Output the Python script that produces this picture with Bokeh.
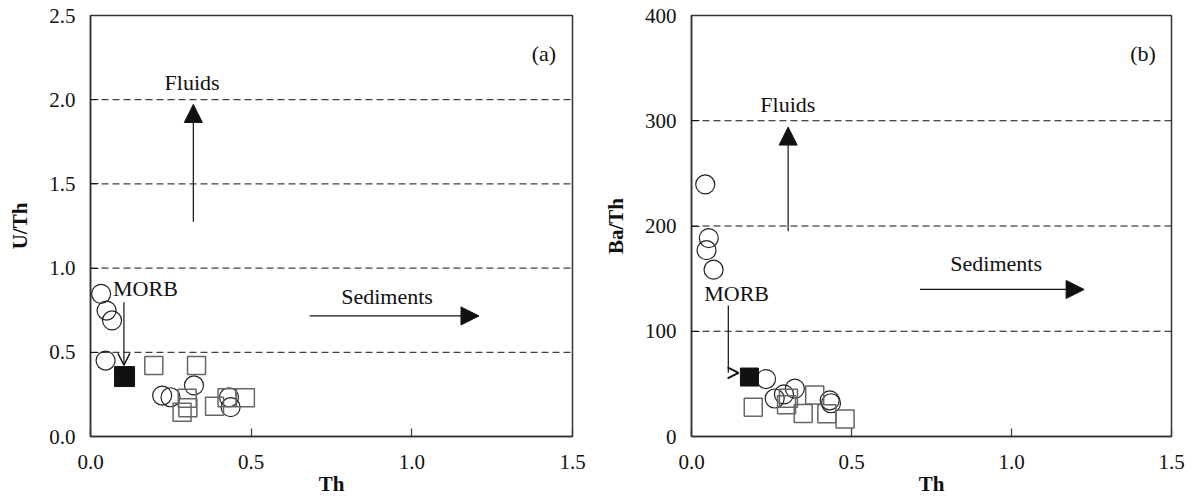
from bokeh.plotting import figure
from bokeh.layouts import row
from bokeh.models import (Arrow, NormalHead, OpenHead, Span, Label, FixedTicker,
                          NumeralTickFormatter)
from bokeh.embed import file_html
from bokeh.resources import INLINE

# ---------------- data ----------------
# Panel (a): U/Th vs Th
a_circle_th = [0.033, 0.050, 0.067, 0.047, 0.223, 0.249, 0.322, 0.431, 0.436]
a_circle_uth = [0.847, 0.748, 0.689, 0.451, 0.243, 0.233, 0.303, 0.233, 0.174]
a_square_th = [0.197, 0.330, 0.301, 0.285, 0.303, 0.386, 0.425, 0.482]
a_square_uth = [0.422, 0.422, 0.227, 0.144, 0.170, 0.180, 0.230, 0.230]
a_morb_th = [0.106]
a_morb_uth = [0.356]
a_hlines = [0.5, 1.0, 1.5, 2.0]
a_yticks = [0.0, 0.5, 1.0, 1.5, 2.0, 2.5]

# Panel (b): Ba/Th vs Th
b_circle_th = [0.043, 0.054, 0.047, 0.069, 0.233, 0.260, 0.289, 0.323, 0.432, 0.436]
b_circle_bath = [239.5, 188.5, 177.0, 158.5, 54.6, 36.1, 40.0, 45.5, 34.4, 31.6]
b_square_th = [0.193, 0.297, 0.303, 0.349, 0.385, 0.423, 0.480]
b_square_bath = [27.8, 30.1, 36.4, 21.8, 39.4, 21.5, 16.6]
b_morb_th = [0.181]
b_morb_bath = [56.5]
b_hlines = [100, 200, 300]
b_yticks = [0, 100, 200, 300, 400]

x_ticks = [0.0, 0.5, 1.0, 1.5]

FONT = "Liberation Serif"
TXT = "#111111"
FRAME = "#333333"


def base_fig(width, left, right, y_max, y_ticks, y_fmt, y_label):
    p = figure(width=width, height=499, x_range=(0, 1.5), y_range=(0, y_max),
               output_backend="svg", toolbar_location=None,
               min_border_left=left, min_border_right=right,
               min_border_top=15, min_border_bottom=63)
    p.grid.visible = False
    p.outline_line_color = FRAME
    p.outline_line_width = 1.5
    p.background_fill_color = "white"
    p.border_fill_color = "white"
    for ax in (p.xaxis[0], p.yaxis[0]):
        ax.axis_line_color = FRAME
        ax.axis_line_width = 1.5
        ax.major_tick_in = 8
        ax.major_tick_out = 0
        ax.major_tick_line_color = FRAME
        ax.major_tick_line_width = 1.2
        ax.minor_tick_line_color = None
        ax.major_label_text_font = FONT
        ax.major_label_text_font_size = "21px"
        ax.major_label_text_color = TXT
        ax.axis_label_text_font = FONT
        ax.axis_label_text_font_size = "21px"
        ax.axis_label_text_font_style = "bold"
        ax.axis_label_text_color = TXT
    p.xaxis.ticker = FixedTicker(ticks=x_ticks)
    p.xaxis.formatter = NumeralTickFormatter(format="0.0")
    p.xaxis.major_label_standoff = 18
    p.xaxis.major_label_text_line_height = 1.0
    p.xaxis.axis_label = "Th"
    p.xaxis.axis_label_standoff = 0
    p.xaxis.axis_label_text_line_height = 1.0
    p.yaxis.ticker = FixedTicker(ticks=y_ticks)
    p.yaxis.formatter = NumeralTickFormatter(format=y_fmt)
    p.yaxis.major_label_standoff = 15
    p.yaxis.axis_label = y_label
    p.yaxis.axis_label_standoff = 14
    return p


def add_text(p, x, y, t, size="22px", align="center", style="normal"):
    p.add_layout(Label(x=x, y=y, text=t, text_font=FONT, text_font_size=size,
                       text_color=TXT, text_align=align, text_baseline="middle",
                       text_font_style=style))


def add_points(p, cx, cy, sx, sy, mx, my, morb_size):
    p.scatter(x=cx, y=cy, marker="circle", size=19, fill_color=None,
              line_color="#222222", line_width=1.2)
    p.scatter(x=sx, y=sy, marker="square", size=18, fill_color=None,
              line_color="#666666", line_width=1.5)
    p.scatter(x=mx, y=my, marker="square", size=morb_size, fill_color="#111111",
              line_color="#111111")


DASH = dict(dimension="width", line_dash="7 4", line_color="#111111", line_width=1)

# ---------------- panel (a) ----------------
pa = base_fig(600, 90, 28, 2.5, a_yticks, "0.0", "U/Th")
for v in a_hlines:
    pa.add_layout(Span(location=v, **DASH))
add_points(pa, a_circle_th, a_circle_uth, a_square_th, a_square_uth,
           a_morb_th, a_morb_uth, 20)
pa.add_layout(Arrow(end=NormalHead(size=18, fill_color="#111111", line_color="#111111"),
                    x_start=0.320, y_start=1.275, x_end=0.320, y_end=1.972,
                    line_color="#111111", line_width=1.2))
pa.add_layout(Arrow(end=NormalHead(size=18, fill_color="#111111", line_color="#111111"),
                    x_start=0.682, y_start=0.716, x_end=1.209, y_end=0.716,
                    line_color="#111111", line_width=1.2))
pa.add_layout(Arrow(end=OpenHead(size=12, line_color="#111111", line_width=1.5),
                    x_start=0.104, y_start=0.797, x_end=0.104, y_end=0.423,
                    line_color="#111111", line_width=1.2))
add_text(pa, 0.316, 2.105, "Fluids")
add_text(pa, 0.923, 0.834, "Sediments")
add_text(pa, 0.171, 0.877, "MORB")
add_text(pa, 1.411, 2.273, "(a)")

# ---------------- panel (b) ----------------
pb = base_fig(594, 88, 23, 400, b_yticks, "0", "Ba/Th")
for v in b_hlines:
    pb.add_layout(Span(location=v, **DASH))
add_points(pb, b_circle_th, b_circle_bath, b_square_th, b_square_bath,
           b_morb_th, b_morb_bath, 18)
pb.add_layout(Arrow(end=NormalHead(size=18, fill_color="#111111", line_color="#111111"),
                    x_start=0.302, y_start=195, x_end=0.302, y_end=294,
                    line_color="#111111", line_width=1.2))
pb.add_layout(Arrow(end=NormalHead(size=18, fill_color="#111111", line_color="#111111"),
                    x_start=0.714, y_start=139.7, x_end=1.227, y_end=139.7,
                    line_color="#111111", line_width=1.2))
pb.add_layout(Arrow(end=None, x_start=0.115, y_start=124.5, x_end=0.115, y_end=60.5,
                    line_color="#111111", line_width=1.2))
pb.add_layout(Arrow(end=OpenHead(size=11, line_color="#111111", line_width=1.8),
                    x_start=0.118, y_start=60.5, x_end=0.147, y_end=60.5,
                    line_color=None, line_width=0))
add_text(pb, 0.301, 315.4, "Fluids")
add_text(pb, 0.952, 164.5, "Sediments")
add_text(pb, 0.141, 135.6, "MORB")
add_text(pb, 1.411, 363.6, "(b)")

layout = row(pa, pb)
open("out.html", "w").write(file_html(layout, INLINE))
